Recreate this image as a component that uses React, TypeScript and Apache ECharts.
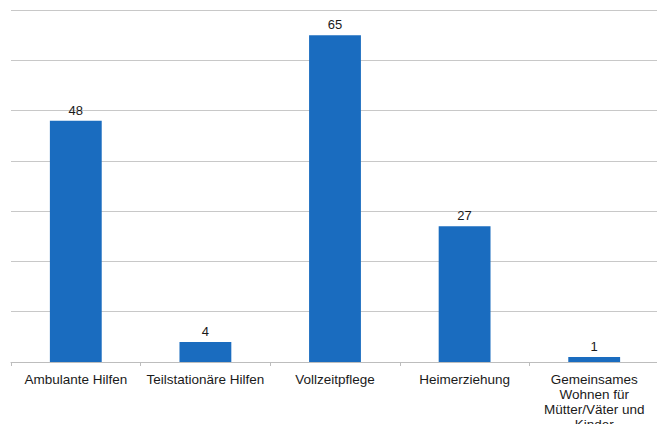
import React, { useEffect, useRef } from "react";
import * as echarts from "echarts";

const categories = [
  "Ambulante Hilfen",
  "Teilstationäre Hilfen",
  "Vollzeitpflege",
  "Heimerziehung",
  "Gemeinsames\nWohnen für\nMütter/Väter und\nKinder",
];
const values = [48, 4, 65, 27, 1];

export default function App() {
  const ref = useRef<HTMLDivElement>(null);
  useEffect(() => {
    if (!ref.current) return;
    const chart = echarts.init(ref.current, undefined, { renderer: "svg" });
    chart.setOption({
      animation: false,
      grid: { left: 11, right: 6, top: 10, bottom: 69, containLabel: false },
      xAxis: {
        type: "category",
        data: categories,
        axisLine: { show: true, lineStyle: { color: "#bdbdbd", width: 1 } },
        axisTick: { show: true, length: 4, lineStyle: { color: "#bdbdbd" } },
        axisLabel: {
          interval: 0,
          margin: 10,
          color: "#1a1a1a",
          fontSize: 13.5,
          fontFamily: "Liberation Sans, Arial, sans-serif",
          lineHeight: 15,
        },
      },
      yAxis: {
        type: "value",
        min: 0,
        max: 70,
        interval: 10,
        axisLabel: { show: false },
        axisLine: { show: false },
        axisTick: { show: false },
        splitLine: { lineStyle: { color: "#c8c8c8", width: 1.2 } },
      },
      series: [
        {
          type: "bar",
          data: values,
          barWidth: "40%",
          itemStyle: { color: "#1a6cbf" },
          label: {
            show: true,
            position: "top",
            distance: 4,
            color: "#1a1a1a",
            fontSize: 13,
            fontFamily: "Liberation Sans, Arial, sans-serif",
          },
        },
      ],
    });
    return () => chart.dispose();
  }, []);
  return <div ref={ref} style={{ width: 665, height: 432, margin: -8 }} />;
}
